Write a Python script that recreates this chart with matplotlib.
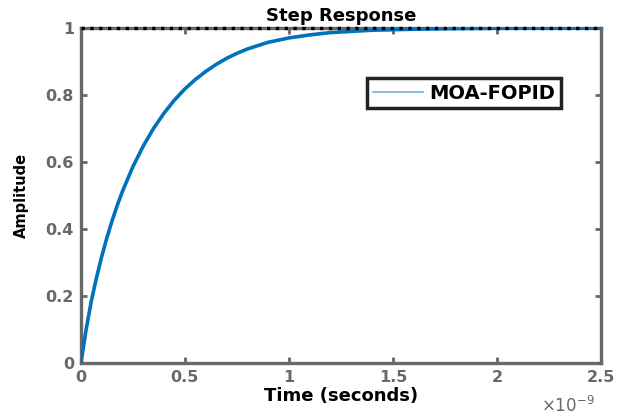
import numpy as np
import matplotlib.pyplot as plt

# step response (time in seconds)
t = np.array([0, 0.025, 0.05, 0.075, 0.1, 0.125, 0.15, 0.175, 0.2, 0.25, 0.3, 0.35,
              0.4, 0.45, 0.5, 0.55, 0.6, 0.65, 0.7, 0.75, 0.8, 0.9, 1.0, 1.1, 1.2,
              1.4, 1.6, 1.8, 2.0, 2.5]) * 1e-9
y = np.array([0, 0.10, 0.185, 0.255, 0.318, 0.374, 0.425, 0.471, 0.513, 0.586, 0.648,
              0.701, 0.746, 0.785, 0.818, 0.846, 0.870, 0.891, 0.909, 0.924, 0.937,
              0.957, 0.970, 0.979, 0.986, 0.993, 0.996, 0.998, 0.999, 1.0])
final_value = 1.0
xticks = [0, 0.5e-9, 1e-9, 1.5e-9, 2e-9, 2.5e-9]
xticklabels = ["0", "0.5", "1", "1.5", "2", "2.5"]
yticks = [0, 0.2, 0.4, 0.6, 0.8, 1]
yticklabels = ["0", "0.2", "0.4", "0.6", "0.8", "1"]

grey = "#686868"
plt.rcParams['font.family'] = ['DejaVu Sans']

fig = plt.figure(figsize=(6.32, 4.16), dpi=100)
ax = fig.add_axes([0.128, 0.127, 0.823, 0.806])

ax.plot(t, y, color="#0072BD", lw=2.6, label="MOA-FOPID", zorder=3)
ax.plot([t[0], t[-1]], [final_value, final_value], color="black", ls=":", lw=2.4,
        clip_on=False, zorder=5)

ax.set_xlim(0, 2.5e-9)
ax.set_ylim(0, 1)
ax.set_xticks(xticks)
ax.set_xticklabels(xticklabels)
ax.set_yticks(yticks)
ax.set_yticklabels(yticklabels)

for s in ax.spines.values():
    s.set_color(grey)
    s.set_linewidth(2.4)
ax.tick_params(direction="in", length=4, width=2, colors=grey, labelsize=11.5,
               top=True, right=True, pad=5)
for lab in ax.get_xticklabels() + ax.get_yticklabels():
    lab.set_fontweight("bold")

ax.text(0.936, -0.128, r"$\times$10$^{-9}$", transform=ax.transAxes, ha="center",
        va="center", fontsize=12, color=grey)

ax.set_title("Step Response", fontsize=13, fontweight="bold", pad=5)
ax.set_xlabel("Time (seconds)", fontsize=13, fontweight="bold", labelpad=1)
ax.set_ylabel("Amplitude", fontsize=10.5, fontweight="bold", labelpad=12)

leg = ax.legend(loc="upper left", bbox_to_anchor=(0.55, 0.851), borderaxespad=0,
                fancybox=False, framealpha=1, handlelength=2.6,
                prop={"weight": "bold", "size": 14}, borderpad=0.3,
                handletextpad=0.3)
leg.get_frame().set_edgecolor("#222222")
leg.get_frame().set_linewidth(2.5)
leg.get_lines()[0].set_linewidth(1.3)
leg.get_lines()[0].set_color("#7fb8dd")

fig.savefig("out.png", dpi=100)
